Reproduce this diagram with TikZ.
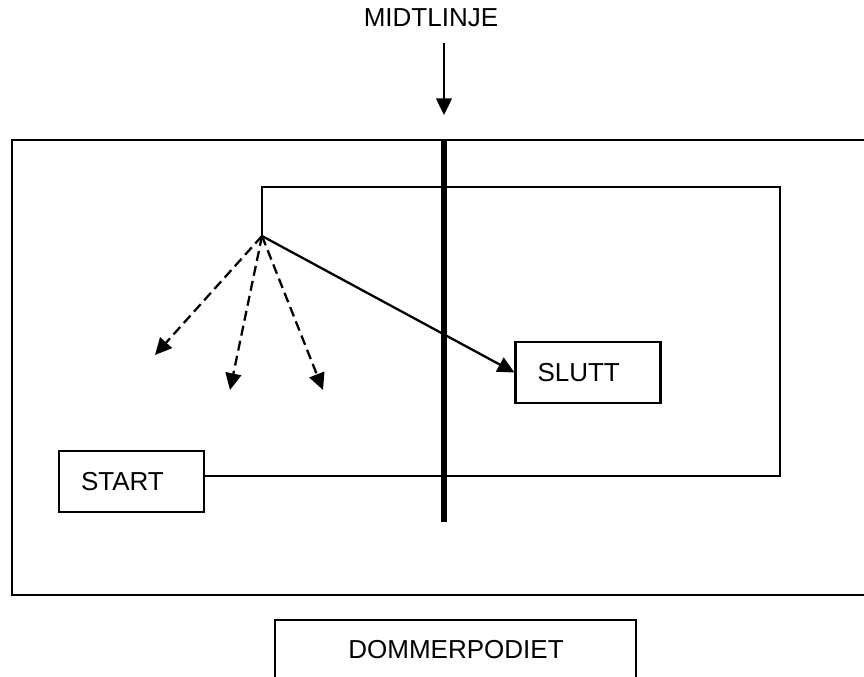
\documentclass[tikz,border=0pt]{standalone}
\usepackage{fontspec}
\setmainfont{Liberation Sans}
\usepackage{tikz}
\usetikzlibrary{arrows.meta,positioning}

\begin{document}
\begin{tikzpicture}[
    line width=1.2pt,
    every node/.style={font=\fontsize{14.8}{18}\selectfont},
    markbox/.style={draw, minimum width=2.9cm, minimum height=1.22cm,
        text width=2.02cm, align=left, inner xsep=0.44cm},
    tip/.style={-{Triangle[length=9.5pt,width=9pt]}},
    guess/.style={tip, line width=1.3pt, dash pattern=on 5.7pt off 3pt}
]
    \useasboundingbox (0,0) rectangle (17.28,-13.54);

    % Outer field boundary (open to the right)
    \draw (17.28,-2.8) -- (0.24,-2.8) -- (0.24,-11.9) -- (17.28,-11.9);

    % Midline
    \draw[line width=3.4pt] (8.88,-2.8) -- (8.88,-10.44);
    \node (midline) at (8.62,-0.36) {MIDTLINJE};
    \coordinate (midtop) at (8.88,-0.86);
    \coordinate (midtip) at (8.88,-2.3);
    \draw[tip] (midtop) -- (midtip);

    % Start and end boxes
    \node[markbox] (start) at (2.63,-9.63) {START};
    \node[markbox] (slutt) at (11.76,-7.45) {SLUTT};

    % Route
    \coordinate (turn) at (5.24,-4.72);
    \draw ([yshift=0.11cm]start.east) -- (15.6,-9.52) -- (15.6,-3.74)
        -- (5.24,-3.74) -- (turn);
    \draw[tip, line width=1.3pt] (turn) -- (slutt.west);

    % Wrong directions
    \coordinate (d1) at (3.1,-7.1);
    \coordinate (d2) at (4.6,-7.8);
    \coordinate (d3) at (6.46,-7.8);
    \foreach \d in {d1,d2,d3}
        \draw[guess] (turn) -- (\d);

    % Judges' podium (cut off at the bottom)
    \draw (5.5,-13.6) -- (5.5,-12.4) -- (12.72,-12.4) -- (12.72,-13.6);
    \node (podium) at (9.12,-13.0) {DOMMERPODIET};
\end{tikzpicture}
\end{document}
